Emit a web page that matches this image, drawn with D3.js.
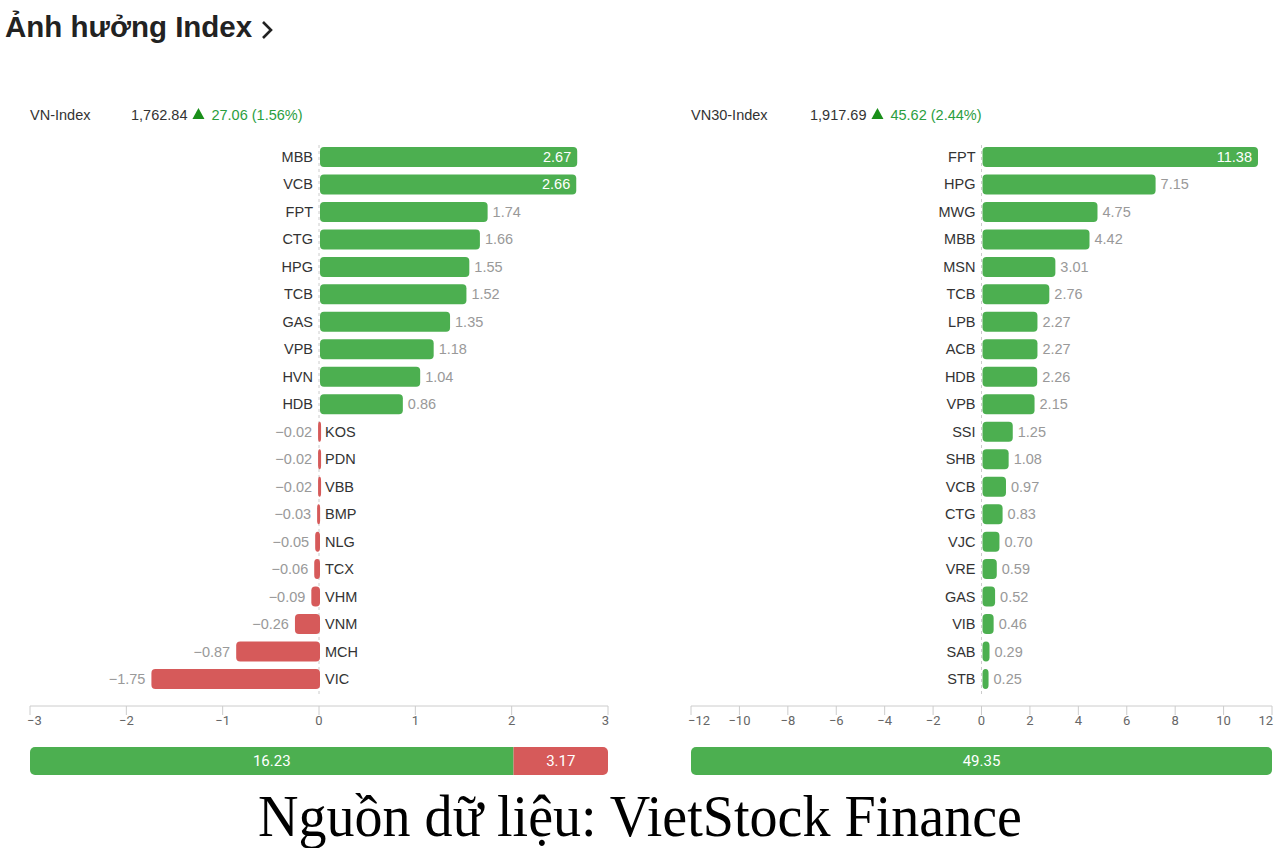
<!DOCTYPE html>
<html>
<head>
<meta charset="utf-8">
<script src="https://cdn.jsdelivr.net/npm/d3@7"></script>
<style>
  html, body { margin: 0; padding: 0; background: #fff; }
  svg { display: block; font-family: "Liberation Sans", Arial, sans-serif; }
  .tick-label { font-family: Roboto, "Liberation Sans", sans-serif; font-size: 13px; fill: #666; }
</style>
</head>
<body>
<svg id="chart" width="1284" height="848"></svg>
<script>
(function () {
  "use strict";

  // VN-Index influence
  const vnCodes = ["MBB", "VCB", "FPT", "CTG", "HPG", "TCB", "GAS", "VPB", "HVN", "HDB",
    "KOS", "PDN", "VBB", "BMP", "NLG", "TCX", "VHM", "VNM", "MCH", "VIC"];
  const vnValues = [2.67, 2.66, 1.74, 1.66, 1.55, 1.52, 1.35, 1.18, 1.04, 0.86,
    -0.02, -0.02, -0.02, -0.03, -0.05, -0.06, -0.09, -0.26, -0.87, -1.75];
  const vnTicks = [-3, -2, -1, 0, 1, 2, 3];
  const vnHeader = ["VN-Index", "1,762.84", "27.06 (1.56%)"];
  const vnTotals = [16.23, 3.17];

  // VN30-Index influence
  const vn30Codes = ["FPT", "HPG", "MWG", "MBB", "MSN", "TCB", "LPB", "ACB", "HDB", "VPB",
    "SSI", "SHB", "VCB", "CTG", "VJC", "VRE", "GAS", "VIB", "SAB", "STB"];
  const vn30Values = [11.38, 7.15, 4.75, 4.42, 3.01, 2.76, 2.27, 2.27, 2.26, 2.15,
    1.25, 1.08, 0.97, 0.83, 0.70, 0.59, 0.52, 0.46, 0.29, 0.25];
  const vn30Ticks = [-12, -10, -8, -6, -4, -2, 0, 2, 4, 6, 8, 10, 12];
  const vn30Header = ["VN30-Index", "1,917.69", "45.62 (2.44%)"];
  const vn30Totals = [49.35, 0];

  const GREEN = "#4caf50";
  const RED = "#d65a5a";
  const TEXT_GREEN = "#2b9e3e";

  const svg = d3.select("#chart");
  const fmt = d3.format(".2f");
  const tickFmt = d => d < 0 ? "\u2212" + Math.abs(d) : String(d);

  // title
  svg.append("text")
    .attr("x", 5).attr("y", 37)
    .attr("font-size", 29.5).attr("font-weight", "bold").attr("fill", "#222")
    .text("Ảnh hưởng Index");
  svg.append("path")
    .attr("d", "M263,22 L271,30 L263,38")
    .attr("fill", "none").attr("stroke", "#222").attr("stroke-width", 2.6);

  const defs = svg.append("defs");

  function drawPanel(opts) {
    const { codes, values, ticks, header, totals, x0, x1, valueX, id } = opts;
    const data = codes.map((c, i) => ({ code: c, value: values[i] }));
    const x = d3.scaleLinear().domain([ticks[0], ticks[ticks.length - 1]]).range([x0, x1]);
    const y = d3.scalePoint().domain(codes).range([157, 679]);
    const barH = 20;
    const g = svg.append("g");

    // header
    const hy = 120;
    g.append("text").attr("x", x0).attr("y", hy).attr("font-size", 14.5).attr("fill", "#333").text(header[0]);
    const num = g.append("text").attr("x", valueX).attr("y", hy).attr("font-size", 14.5).attr("fill", "#333").text(header[1]);
    const vw = num.node().getComputedTextLength();
    g.append("path")
      .attr("d", `M${valueX + vw + 5},${hy - 1} l6,-11 l6,11 z`)
      .attr("fill", "#1a8f1a");
    g.append("text").attr("x", valueX + vw + 24).attr("y", hy).attr("font-size", 14.5).attr("fill", TEXT_GREEN).text(header[2]);

    // zero line
    g.append("line")
      .attr("x1", x(0)).attr("x2", x(0)).attr("y1", 145).attr("y2", 697)
      .attr("stroke", "#ccc").attr("stroke-dasharray", "3,3");

    // bars
    const rows = g.selectAll(".row").data(data).join("g").attr("class", "row");
    rows.append("rect")
      .attr("x", d => Math.min(x(0), x(d.value)) + 1)
      .attr("y", d => y(d.code) - barH / 2)
      .attr("width", d => Math.max(3, Math.abs(x(d.value) - x(0))))
      .attr("height", barH)
      .attr("rx", 4)
      .attr("fill", d => d.value >= 0 ? GREEN : RED);

    rows.append("text")
      .attr("x", d => d.value >= 0 ? x(0) - 6 : x(0) + 6)
      .attr("y", d => y(d.code) + 5)
      .attr("text-anchor", d => d.value >= 0 ? "end" : "start")
      .attr("font-size", 14.5).attr("fill", "#333")
      .text(d => d.code);

    rows.append("text")
      .each(function (d) {
        const t = d3.select(this);
        const end = x(d.value);
        const inside = d.value >= 0 ? end + 45 > x1 : end - 45 < x0;
        if (d.value >= 0) {
          t.attr("x", inside ? end - 5 : end + 6).attr("text-anchor", inside ? "end" : "start");
        } else {
          t.attr("x", inside ? end + 5 : end - 5).attr("text-anchor", inside ? "start" : "end");
        }
        t.attr("fill", inside ? "#fff" : "#999");
      })
      .attr("y", d => y(d.code) + 5)
      .attr("font-size", 14.5)
      .text(d => fmt(d.value));

    // axis
    const axis = g.append("g").attr("transform", "translate(0,706)");
    axis.append("line").attr("x1", x0).attr("x2", x1).attr("stroke", "#ccc");
    axis.selectAll(".tk").data(ticks).join("line")
      .attr("x1", d => x(d)).attr("x2", d => x(d)).attr("y1", 0).attr("y2", 9)
      .attr("stroke", "#ccc");
    axis.selectAll(".tick-label").data(ticks).join("text")
      .attr("class", "tick-label")
      .attr("x", d => x(d)).attr("y", 19)
      .attr("text-anchor", (d, i) => i === 0 ? "start" : (i === ticks.length - 1 ? "end" : "middle"))
      .attr("dx", (d, i) => i === 0 ? -3 : (i === ticks.length - 1 ? 1 : 0))
      .text(tickFmt);

    // summary bar
    const [pos, neg] = totals;
    const s = d3.scaleLinear().domain([0, pos + neg]).range([x0, x1]);
    const clipId = "clip-" + id;
    defs.append("clipPath").attr("id", clipId)
      .append("rect").attr("x", x0).attr("y", 747).attr("width", x1 - x0).attr("height", 28).attr("rx", 5);
    const sb = g.append("g").attr("clip-path", `url(#${clipId})`);
    const segs = [{ v: pos, a: 0, b: pos, c: GREEN }];
    if (neg > 0) segs.push({ v: neg, a: pos, b: pos + neg, c: RED });
    sb.selectAll("rect").data(segs).join("rect")
      .attr("x", d => s(d.a)).attr("y", 747)
      .attr("width", d => s(d.b) - s(d.a)).attr("height", 28)
      .attr("fill", d => d.c);
    g.selectAll(".seg-label").data(segs).join("text")
      .attr("class", "tick-label")
      .attr("x", d => (s(d.a) + s(d.b)) / 2).attr("y", 766)
      .attr("text-anchor", "middle")
      .style("font-size", "15px").style("fill", "#fff")
      .text(d => fmt(d.v));
  }

  drawPanel({ codes: vnCodes, values: vnValues, ticks: vnTicks, header: vnHeader, totals: vnTotals, x0: 30, x1: 608, valueX: 131, id: "vn" });
  drawPanel({ codes: vn30Codes, values: vn30Values, ticks: vn30Ticks, header: vn30Header, totals: vn30Totals, x0: 691, x1: 1272, valueX: 810, id: "vn30" });

  // source caption
  svg.append("text")
    .attr("x", 258).attr("y", 836)
    .attr("font-family", "'Liberation Serif', 'Times New Roman', serif")
    .attr("font-size", 60).attr("fill", "#000")
    .attr("textLength", 764).attr("lengthAdjust", "spacingAndGlyphs")
    .text("Nguồn dữ liệu: VietStock Finance");
})();
</script>
</body>
</html>
